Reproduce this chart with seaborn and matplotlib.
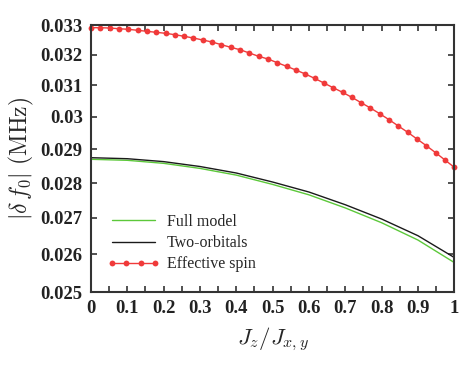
import numpy as np
import pandas as pd
import matplotlib
matplotlib.use('Agg')
import matplotlib.pyplot as plt
import matplotlib.ticker as mticker
import seaborn as sns

# Data
x_model = [0.0, 0.1, 0.2, 0.3, 0.4, 0.5, 0.6, 0.7, 0.8, 0.9, 1.0]
full_model = [0.028699, 0.028669, 0.028579, 0.028429, 0.028231, 0.027959,
              0.027658, 0.027284, 0.026867, 0.026388, 0.025778]
two_orbitals = [0.028747, 0.028717, 0.028630, 0.028485, 0.028293, 0.028029,
                0.027739, 0.027375, 0.026971, 0.026507, 0.025913]

x_spin = np.linspace(0, 1, 40)
effective_spin = [0.032908, 0.032908, 0.032897, 0.032873, 0.032853, 0.032819,
                  0.032785, 0.032750, 0.032717, 0.032669, 0.032615, 0.032557,
                  0.032489, 0.032422, 0.032331, 0.032244, 0.032163, 0.032053,
                  0.031943, 0.031854, 0.031731, 0.031613, 0.031491, 0.031361,
                  0.031221, 0.031068, 0.030917, 0.030770, 0.030610, 0.030439,
                  0.030271, 0.030092, 0.029905, 0.029710, 0.029516, 0.029311,
                  0.029108, 0.028896, 0.028678, 0.028461]

yticks = [0.025, 0.026, 0.027, 0.028, 0.029, 0.03, 0.031, 0.032, 0.033]
xticks = [0, 0.1, 0.2, 0.3, 0.4, 0.5, 0.6, 0.7, 0.8, 0.9, 1]

sns.set_style('ticks')
plt.rcParams['font.family'] = ['Liberation Serif', 'DejaVu Serif']
plt.rcParams['mathtext.fontset'] = 'cm'

df_model = pd.DataFrame({'x': x_model, 'full': full_model, 'two': two_orbitals})
df_spin = pd.DataFrame({'x': x_spin, 'spin': effective_spin})

fig = plt.figure(figsize=(4.68, 3.70), dpi=100)
ax = fig.add_axes([0.1944, 0.2108, 0.7763, 0.7216])

sns.lineplot(data=df_model, x='x', y='full', ax=ax, color='#5cc83a', lw=1.0,
             label='Full model')
sns.lineplot(data=df_model, x='x', y='two', ax=ax, color='#1a1a1a', lw=1.0,
             label='Two-orbitals')
sns.lineplot(data=df_spin, x='x', y='spin', ax=ax, color='#f03a3a', lw=1.0,
             marker='o', markersize=4.2, markeredgewidth=0,
             label='Effective spin', clip_on=False)

ax.set_yscale('log')
ax.set_xlim(0, 1)
ax.set_ylim(0.025, 0.033)
ax.yaxis.set_major_locator(mticker.FixedLocator(yticks))
ax.yaxis.set_minor_locator(mticker.NullLocator())
ax.yaxis.set_major_formatter(mticker.FixedFormatter(['%g' % t for t in yticks]))
ax.xaxis.set_major_locator(mticker.FixedLocator(xticks))
ax.xaxis.set_minor_locator(mticker.MultipleLocator(0.05))
ax.xaxis.set_major_formatter(mticker.FixedFormatter(['%g' % t for t in xticks]))

ax.tick_params(which='both', direction='in', top=True, right=True,
               length=4, width=1.2, color='#333333', pad=6)
for lab in ax.get_xticklabels() + ax.get_yticklabels():
    lab.set_fontweight('bold')
    lab.set_fontsize(13.4)
    lab.set_color('#222222')
for s in ax.spines.values():
    s.set_linewidth(1.5)
    s.set_color('#333333')

ax.set_xlabel(r'$J_z/J_{x,y}$', fontsize=16.5, labelpad=6)
ax.set_ylabel(r'$|\delta\, f_0|\ \mathrm{(MHz)}$', fontsize=17, labelpad=3)

ax.legend(loc='lower left', bbox_to_anchor=(0.005, 0.02), frameon=False,
          fontsize=11.5, handlelength=3.3, handletextpad=0.45, numpoints=4,
          labelspacing=0.32)

fig.savefig('out.png', dpi=100)
